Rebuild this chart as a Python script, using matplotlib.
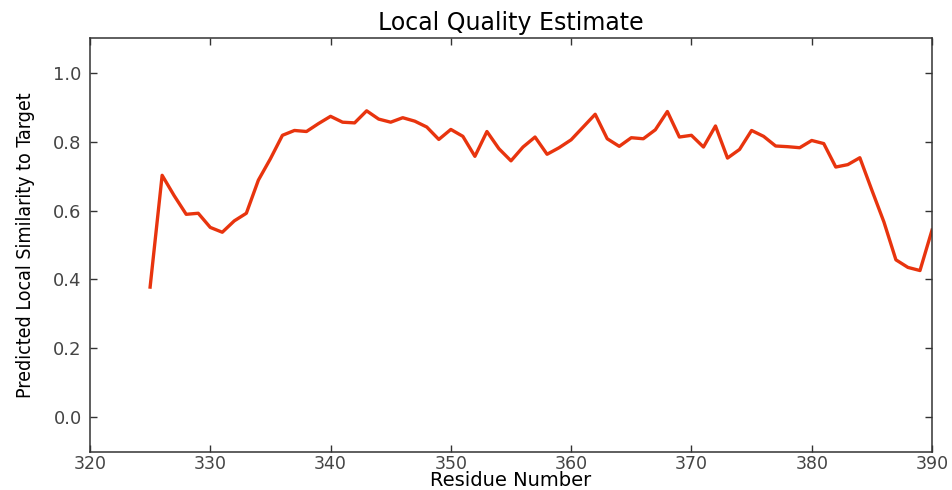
import numpy as np
import matplotlib
matplotlib.use('Agg')
import matplotlib.pyplot as plt

# per-residue local quality scores
residues = np.arange(325, 391)
scores = [0.378, 0.702, 0.643, 0.589, 0.592, 0.551, 0.537, 0.570, 0.592, 0.688,
          0.750, 0.818, 0.832, 0.829, 0.852, 0.873, 0.856, 0.854, 0.889, 0.865,
          0.856, 0.869, 0.859, 0.842, 0.806, 0.835, 0.815, 0.757, 0.829, 0.779,
          0.744, 0.784, 0.813, 0.763, 0.782, 0.805, 0.842, 0.879, 0.808, 0.786,
          0.811, 0.808, 0.834, 0.887, 0.813, 0.818, 0.784, 0.845, 0.752, 0.777,
          0.832, 0.815, 0.787, 0.785, 0.782, 0.803, 0.794, 0.726, 0.733, 0.753,
          0.659, 0.567, 0.457, 0.435, 0.426, 0.543]

xticks = np.arange(320, 391, 10)
yticks = [0.0, 0.2, 0.4, 0.6, 0.8, 1.0]

fig = plt.figure(figsize=(9.52, 4.9), dpi=100)
ax = fig.add_axes([0.0945, 0.0776, 0.8845, 0.8448])

ax.plot(residues, scores, color='#e8340e', linewidth=2.4)

ax.set_xlim(320, 390)
ax.set_ylim(-0.1, 1.1)
ax.set_xticks(xticks)
ax.set_yticks(yticks)
ax.set_yticklabels(['%.1f' % v for v in yticks])
ax.tick_params(direction='in', top=True, right=True, length=5, width=1,
               colors='#333333', labelcolor='#444444')
ax.tick_params(axis='x', pad=2, labelsize=12.5)
ax.tick_params(axis='y', pad=6, labelsize=13)
for s in ax.spines.values():
    s.set_linewidth(1.1)
    s.set_color('#333333')

ax.set_title('Local Quality Estimate', fontsize=17, pad=6)
ax.set_xlabel('Residue Number', fontsize=14, labelpad=-1)
ax.set_ylabel('Predicted Local Similarity to Target', fontsize=14,
              fontstretch='condensed', labelpad=13)

fig.savefig('out.png', dpi=100)
